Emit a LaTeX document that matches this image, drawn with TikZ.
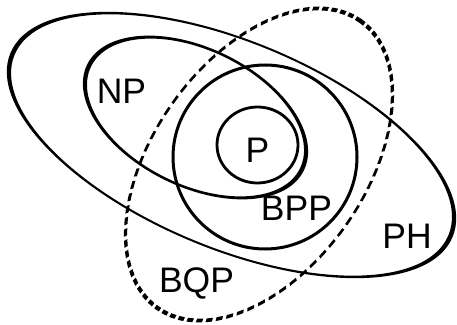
\documentclass[tikz,border=0pt]{standalone}
\usepackage{fontspec}
\setmainfont{Liberation Sans}
\tikzset{
  lbl/.style={anchor=base, inner sep=0pt, font=\fontsize{35.5}{40}\selectfont},
}
\begin{document}
\begin{tikzpicture}[x=1pt,y=1pt]
\useasboundingbox (0,0) rectangle (457,324);
% PH
\begin{scope}[transform canvas={shift={(231.5pt,179pt)},rotate=-22.6,xscale=23.72,yscale=10.33}]
  \draw[line width=0.19pt] (0,0) circle [radius=10pt];
\end{scope}
% NP
\begin{scope}[transform canvas={shift={(195.5pt,206.5pt)},rotate=-26,xscale=11.84,yscale=6.83}]
  \draw[line width=0.37pt] (0,0) circle [radius=10pt];
\end{scope}
% BQP
\begin{scope}[transform canvas={shift={(259pt,159.5pt)},rotate=54.7,xscale=17.58,yscale=10.6}]
  \draw[line width=0.245pt, dash pattern=on 0.51pt off 0.29pt] (0,0) circle [radius=10pt];
\end{scope}
% BPP
\draw[line width=3pt] (265,167) circle [radius=92pt];
% P
\draw[line width=2.8pt] (257.5,179) ellipse [x radius=40.5pt, y radius=38pt];
% labels
\node[lbl] (np) at (121.5,220) {NP};
\node[lbl] (p) at (257.5,161) {P};
\node[lbl] (bpp) at (296.5,103) {BPP};
\node[lbl] (ph) at (407,76) {PH};
\node[lbl] (bqp) at (196.5,32) {BQP};
\end{tikzpicture}
\end{document}
